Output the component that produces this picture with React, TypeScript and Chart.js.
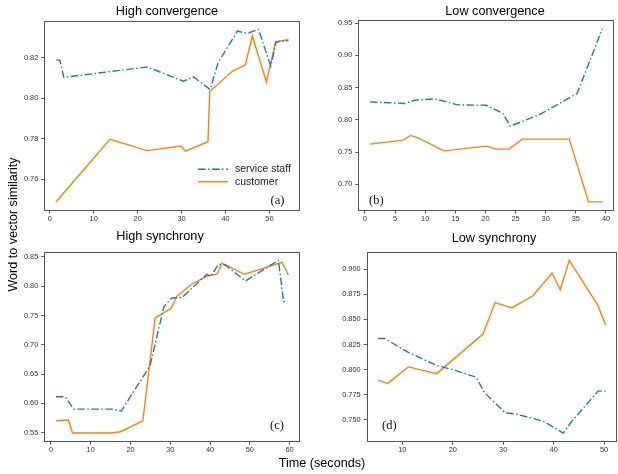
import React, { useEffect, useRef } from "react";
import { Chart, registerables } from "chart.js";

Chart.register(...registerables);

const W = 618;
const H = 474;
const SANS = '"Liberation Sans", Arial, Helvetica, sans-serif';
const SERIF = '"Liberation Serif", "Times New Roman", serif';
const BLUE = "#1f77b4";
const ORANGE = "#ff7f0e";
const DASHDOT = [7.5, 2.5, 1.5, 2.5];

const seriesLabels = ["service staff", "customer"];
const yAxisTitle = "Word to vector similarity";
const xAxisTitle = "Time (seconds)";

// (a) High convergence
const aStaffX = [1.5, 2.3, 3.2, 22.2, 30.4, 32.7, 36.5, 38.3, 42.7, 45.0, 47.5, 50.3, 51.5, 54.3];
const aStaffY = [0.8189, 0.8187, 0.8103, 0.8154, 0.8084, 0.8105, 0.8043, 0.8175, 0.8331, 0.832, 0.834, 0.8159, 0.8277, 0.8285];
const aCustX = [1.4, 13.7, 22.2, 29.8, 30.9, 36.0, 36.4, 41.6, 44.5, 46.1, 49.3, 51.4, 54.3];
const aCustY = [0.7487, 0.7797, 0.7741, 0.7764, 0.7738, 0.7785, 0.8033, 0.8134, 0.8164, 0.8307, 0.808, 0.8279, 0.8289];
const aXTicks = [0, 10, 20, 30, 40, 50];
const aYTicks = [0.76, 0.78, 0.8, 0.82];

// (b) Low convergence
const bStaffX = [0.83, 6.6, 8.3, 11.6, 15.4, 20.1, 22.9, 24.1, 29.0, 35.2, 39.4];
const bStaffY = [0.8278, 0.8254, 0.8305, 0.8325, 0.8232, 0.8227, 0.81, 0.7903, 0.8083, 0.8408, 0.9413];
const bCustX = [0.83, 6.35, 7.57, 8.83, 13.1, 20.2, 21.8, 23.9, 26.1, 33.9, 37.1, 39.4];
const bCustY = [0.7624, 0.7686, 0.7759, 0.7722, 0.752, 0.7593, 0.7547, 0.7547, 0.7701, 0.7701, 0.673, 0.673];
const bXTicks = [0, 5, 10, 15, 20, 25, 30, 35, 40];
const bYTicks = [0.7, 0.75, 0.8, 0.85, 0.9, 0.95];

// (c) High synchrony
const cStaffX = [1.25, 3.6, 5.7, 15.5, 17.7, 24.9, 28.4, 30.4, 33.0, 39.2, 40.1, 42.2, 43.9, 48.9, 57.2, 58.5, 59.5];
const cStaffY = [0.6114, 0.6114, 0.5903, 0.5903, 0.587, 0.6642, 0.765, 0.78, 0.781, 0.8205, 0.817, 0.838, 0.836, 0.809, 0.8443, 0.7739, 0.7739];
const cCustX = [1.25, 4.4, 5.4, 15.0, 17.5, 23.1, 26.2, 30.2, 31.7, 35.4, 39.3, 41.8, 43.0, 48.7, 58.1, 59.7];
const cCustY = [0.5705, 0.5716, 0.5494, 0.5494, 0.5517, 0.57, 0.746, 0.7622, 0.783, 0.8035, 0.8176, 0.821, 0.8395, 0.8205, 0.8409, 0.8193];
const cXTicks = [0, 10, 20, 30, 40, 50, 60];
const cYTicks = [0.55, 0.6, 0.65, 0.7, 0.75, 0.8, 0.85];

// (d) Low synchrony
const dStaffX = [5.2, 6.5, 11.0, 16.6, 20.8, 24.6, 26.3, 30.4, 32.5, 38.0, 41.9, 43.6, 48.8, 50.3];
const dStaffY = [0.831, 0.831, 0.8176, 0.8046, 0.7986, 0.7925, 0.7768, 0.7567, 0.7557, 0.7483, 0.7366, 0.7483, 0.7785, 0.7785];
const dCustX = [5.2, 7.1, 11.2, 16.8, 26.0, 28.4, 31.7, 35.9, 39.7, 41.3, 43.1, 48.8, 50.3];
const dCustY = [0.7895, 0.7862, 0.8026, 0.7959, 0.8354, 0.8669, 0.8615, 0.8736, 0.8963, 0.8796, 0.909, 0.8638, 0.8444];
const dXTicks = [10, 20, 30, 40, 50];
const dYTicks = [0.75, 0.775, 0.8, 0.825, 0.85, 0.875, 0.9];

type Rect = { l: number; t: number; r: number; b: number };
type Panel = {
  title: string;
  tag: string;
  staffX: number[];
  staffY: number[];
  custX: number[];
  custY: number[];
  xTicks: number[];
  yTicks: number[];
  yDec: number;
  rect: Rect;
  titlePos: [number, number];
  tagPos: [number, number];
  legend?: boolean;
  figLabels?: boolean;
};

const panels: Panel[] = [
  {
    title: "High convergence", tag: "(a)",
    staffX: aStaffX, staffY: aStaffY, custX: aCustX, custY: aCustY,
    xTicks: aXTicks, yTicks: aYTicks, yDec: 2,
    rect: { l: 44.3, t: 20.7, r: 300, b: 210.7 },
    titlePos: [167, 15], tagPos: [270.5, 203.5], legend: true, figLabels: true,
  },
  {
    title: "Low convergence", tag: "(b)",
    staffX: bStaffX, staffY: bStaffY, custX: bCustX, custY: bCustY,
    xTicks: bXTicks, yTicks: bYTicks, yDec: 2,
    rect: { l: 358.3, t: 20, r: 614, b: 210.5 },
    titlePos: [495, 15], tagPos: [369, 203.5],
  },
  {
    title: "High synchrony", tag: "(c)",
    staffX: cStaffX, staffY: cStaffY, custX: cCustX, custY: cCustY,
    xTicks: cXTicks, yTicks: cYTicks, yDec: 2,
    rect: { l: 44.3, t: 251.7, r: 300, b: 441.7 },
    titlePos: [160, 239.5], tagPos: [270, 428.5],
  },
  {
    title: "Low synchrony", tag: "(d)",
    staffX: dStaffX, staffY: dStaffY, custX: dCustX, custY: dCustY,
    xTicks: dXTicks, yTicks: dYTicks, yDec: 3,
    rect: { l: 366.7, t: 251.7, r: 617, b: 441.7 },
    titlePos: [494, 242], tagPos: [382, 428.5],
  },
];

const Y_AXIS_W = 40;
const X_AXIS_H = 20;

function padRange(a: number[], b: number[]): [number, number] {
  const all = a.concat(b);
  const mn = Math.min(...all);
  const mx = Math.max(...all);
  const r = mx - mn;
  return [mn - 0.05 * r, mx + 0.05 * r];
}

const framePlugin = {
  id: "frame",
  afterDatasetsDraw(chart: any) {
    const { left, top, right, bottom } = chart.chartArea;
    const ctx = chart.ctx;
    ctx.save();
    ctx.strokeStyle = "#555";
    ctx.lineWidth = 1;
    const l = Math.round(left) + 0.5;
    const t = Math.round(top) + 0.5;
    const r = Math.round(right) - 0.5;
    const b = Math.round(bottom) - 0.5;
    ctx.strokeRect(l, t, r - l, b - t);
    ctx.restore();
  },
};

const decoPlugin = {
  id: "deco",
  afterDraw(chart: any, _args: any, opts: any) {
    const ctx = chart.ctx;
    ctx.save();
    // title
    ctx.fillStyle = "#000";
    ctx.font = `12.7px ${SANS}`;
    ctx.textAlign = "center";
    ctx.textBaseline = "alphabetic";
    ctx.fillText(opts.title, opts.titlePos[0], opts.titlePos[1]);
    // panel tag
    ctx.font = `12.5px ${SERIF}`;
    ctx.textAlign = "left";
    ctx.fillStyle = "#111";
    ctx.fillText(opts.tag, opts.tagPos[0], opts.tagPos[1]);
    // legend
    if (opts.legend) {
      const x0 = 198;
      const len = 30;
      const rows = [169.3, 181.7];
      chart.data.datasets.forEach((ds: any, i: number) => {
        const y = rows[i];
        ctx.beginPath();
        ctx.strokeStyle = ds.borderColor;
        ctx.lineWidth = ds.borderWidth;
        ctx.setLineDash(ds.borderDash || []);
        ctx.moveTo(x0, y);
        ctx.lineTo(x0 + len, y);
        ctx.stroke();
        ctx.setLineDash([]);
        ctx.fillStyle = "#222";
        ctx.font = `10.5px ${SANS}`;
        ctx.textAlign = "left";
        ctx.textBaseline = "middle";
        ctx.fillText(ds.label, x0 + len + 7, y);
      });
    }
    // figure-level axis titles
    if (opts.figLabels) {
      ctx.fillStyle = "#000";
      ctx.font = `12.6px ${SANS}`;
      ctx.textAlign = "center";
      ctx.textBaseline = "alphabetic";
      ctx.fillText(xAxisTitle, 322, 466.5);
      ctx.save();
      ctx.translate(16.8, 224.5);
      ctx.rotate(-Math.PI / 2);
      ctx.fillText(yAxisTitle, 0, 0);
      ctx.restore();
    }
    ctx.restore();
  },
};

function makeConfig(p: Panel): any {
  const [xMin, xMax] = padRange(p.staffX, p.custX);
  const [yMin, yMax] = padRange(p.staffY, p.custY);
  const tickFont = { family: SANS, size: 7.4 };
  const gridCfg = {
    display: true,
    drawOnChartArea: false,
    drawTicks: true,
    tickLength: 3,
    color: "#555",
    tickColor: "#555",
  };
  return {
    type: "line",
    data: {
      datasets: [
        {
          label: seriesLabels[0],
          data: p.staffX.map((x, i) => ({ x, y: p.staffY[i] })),
          borderColor: BLUE,
          backgroundColor: BLUE,
          borderWidth: 1.4,
          borderDash: DASHDOT,
          pointRadius: 0,
          tension: 0,
          fill: false,
        },
        {
          label: seriesLabels[1],
          data: p.custX.map((x, i) => ({ x, y: p.custY[i] })),
          borderColor: ORANGE,
          backgroundColor: ORANGE,
          borderWidth: 1.4,
          pointRadius: 0,
          tension: 0,
          fill: false,
        },
      ],
    },
    options: {
      responsive: false,
      animation: false,
      events: [],
      layout: {
        padding: {
          left: p.rect.l - Y_AXIS_W,
          top: p.rect.t,
          right: W - p.rect.r,
          bottom: H - p.rect.b - X_AXIS_H,
        },
      },
      plugins: {
        legend: { display: false },
        tooltip: { enabled: false },
        title: { display: false },
        deco: {
          title: p.title,
          titlePos: p.titlePos,
          tag: p.tag,
          tagPos: p.tagPos,
          legend: !!p.legend,
          figLabels: !!p.figLabels,
        },
      },
      scales: {
        x: {
          type: "linear",
          min: xMin,
          max: xMax,
          afterBuildTicks: (s: any) => {
            s.ticks = p.xTicks.map((v) => ({ value: v }));
          },
          afterFit: (s: any) => {
            s.height = X_AXIS_H;
          },
          ticks: {
            font: tickFont,
            color: "#333",
            padding: 1,
            maxRotation: 0,
            autoSkip: false,
            callback: (v: any) => String(v),
          },
          grid: gridCfg,
          border: { display: false },
        },
        y: {
          type: "linear",
          min: yMin,
          max: yMax,
          afterBuildTicks: (s: any) => {
            s.ticks = p.yTicks.map((v) => ({ value: v }));
          },
          afterFit: (s: any) => {
            s.width = Y_AXIS_W;
          },
          ticks: {
            font: tickFont,
            color: "#333",
            padding: 3,
            autoSkip: false,
            callback: (v: any) => Number(v).toFixed(p.yDec),
          },
          grid: gridCfg,
          border: { display: false },
        },
      },
    },
    plugins: [framePlugin, decoPlugin],
  };
}

export default function App() {
  const refs = useRef<(HTMLCanvasElement | null)[]>([]);

  useEffect(() => {
    const charts = panels.map((p, i) => {
      const c = refs.current[i] as HTMLCanvasElement;
      return new Chart(c, makeConfig(p));
    });
    return () => charts.forEach((ch) => ch.destroy());
  }, []);

  return (
    <div
      style={{
        position: "absolute",
        left: 0,
        top: 0,
        width: W,
        height: H,
        background: "#fff",
        overflow: "hidden",
      }}
    >
      {panels.map((p, i) => (
        <canvas
          key={p.tag}
          ref={(el) => {
            refs.current[i] = el;
          }}
          width={W}
          height={H}
          style={{ position: "absolute", left: 0, top: 0, width: W, height: H }}
        />
      ))}
    </div>
  );
}
